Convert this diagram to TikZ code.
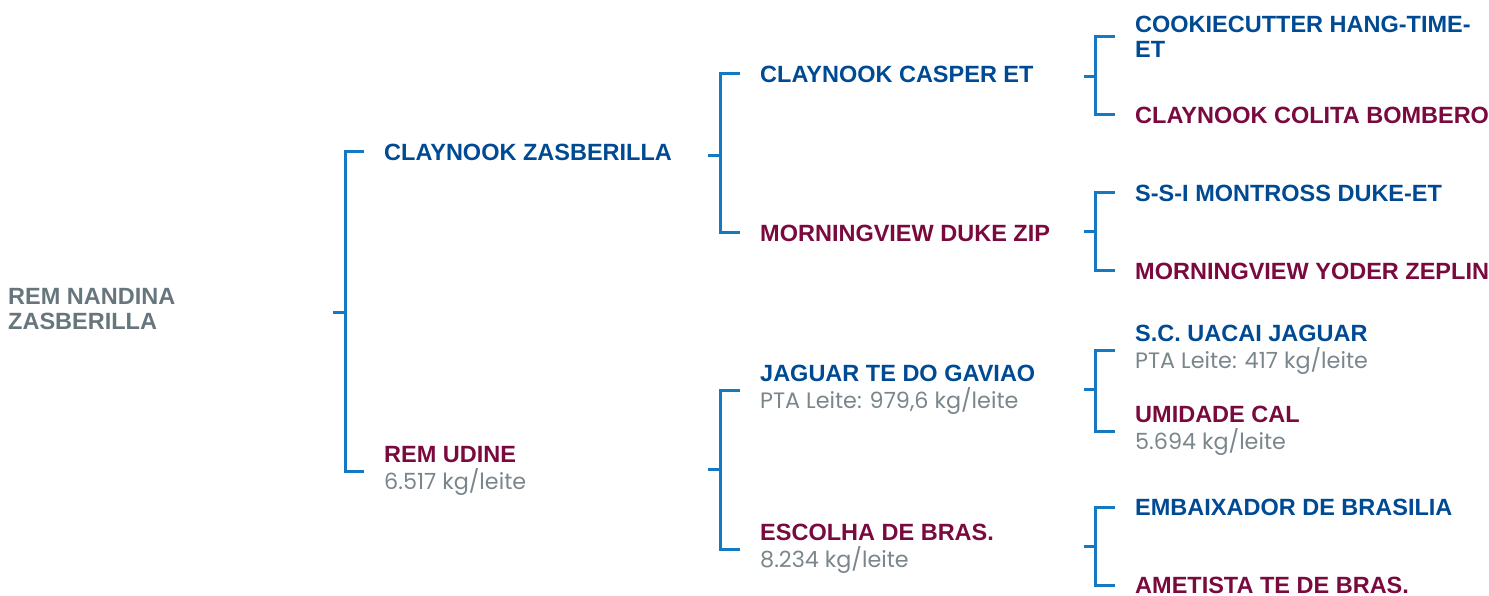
\documentclass[tikz,border=0pt]{standalone}
\usepackage{fontspec}
\setmainfont{Liberation Sans}
\newfontfamily\valfont{Poppins}

\definecolor{sireblue}{HTML}{004A94}
\definecolor{damred}{HTML}{7A0A3E}
\definecolor{rootgrey}{HTML}{67757D}
\definecolor{valgrey}{HTML}{7A868C}
\definecolor{linkblue}{HTML}{1479C2}

\newcommand{\leite}[1]{\\[1.5pt]{\valfont\mdseries\fontsize{22.3}{25}\selectfont\color{valgrey}#1}}

\begin{document}
\begin{tikzpicture}[x=1pt,y=-1pt,
	every node/.style={anchor=west,inner sep=0pt,align=left,font=\fontsize{23.5}{25}\selectfont\bfseries},
	sire/.style={text=sireblue},
	dam/.style={text=damred},
	bracket/.style={draw=linkblue,line width=3pt,shorten >=20pt}]
	\useasboundingbox (0,0) rectangle (1489,596);
	% animal
	\node[text=rootgrey] (r) at (8,309) {REM NANDINA\\ZASBERILLA};
	% parents
	\node[sire] (p) at (384,152) {CLAYNOOK ZASBERILLA};
	\node[dam] (m) at (384,471) {REM UDINE\leite{6.517 kg/leite}};
	% grandparents
	\node[sire] (pp) at (760,74) {CLAYNOOK CASPER ET};
	\node[dam] (pm) at (760,233) {MORNINGVIEW DUKE ZIP};
	\node[sire] (mp) at (760,390) {JAGUAR TE DO GAVIAO\leite{PTA Leite: 979,6 kg/leite}};
	\node[dam] (mm) at (760,549) {ESCOLHA DE BRAS.\leite{8.234 kg/leite}};
	% great-grandparents
	\node[sire] (ppp) at (1135,37) {COOKIECUTTER HANG-TIME-\\ET};
	\node[dam] (ppm) at (1135,115) {CLAYNOOK COLITA BOMBERO};
	\node[sire] (pmp) at (1135,193) {S-S-I MONTROSS DUKE-ET};
	\node[dam] (pmm) at (1135,271) {MORNINGVIEW YODER ZEPLIN};
	\node[sire] (mpp) at (1135,350) {S.C. UACAI JAGUAR\leite{PTA Leite: 417 kg/leite}};
	\node[dam] (mpm) at (1135,431) {UMIDADE CAL\leite{5.694 kg/leite}};
	\node[sire] (mmp) at (1135,507) {EMBAIXADOR DE BRASILIA};
	\node[dam] (mmm) at (1135,585) {AMETISTA TE DE BRAS.};
	% brackets
	\coordinate (s) at (333,312);
	\coordinate (sp) at (708,156);
	\coordinate (sm) at (708,469);
	\coordinate (spp) at (1084,77);
	\coordinate (spm) at (1084,232);
	\coordinate (smp) at (1084,389);
	\coordinate (smm) at (1084,546);
	\draw[bracket] (s) -- ++(12,0) |- (p.west);
	\draw[bracket] (s) -- ++(12,0) |- (m.west);
	\draw[bracket] (sp) -- ++(12,0) |- (pp.west);
	\draw[bracket] (sp) -- ++(12,0) |- (pm.west);
	\draw[bracket] (sm) -- ++(12,0) |- (mp.west);
	\draw[bracket] (sm) -- ++(12,0) |- (mm.west);
	\draw[bracket] (spp) -- ++(11,0) |- (ppp.west);
	\draw[bracket] (spp) -- ++(11,0) |- (ppm.west);
	\draw[bracket] (spm) -- ++(11,0) |- (pmp.west);
	\draw[bracket] (spm) -- ++(11,0) |- (pmm.west);
	\draw[bracket] (smp) -- ++(11,0) |- (mpp.west);
	\draw[bracket] (smp) -- ++(11,0) |- (mpm.west);
	\draw[bracket] (smm) -- ++(11,0) |- (mmp.west);
	\draw[bracket] (smm) -- ++(11,0) |- (mmm.west);
\end{tikzpicture}
\end{document}
